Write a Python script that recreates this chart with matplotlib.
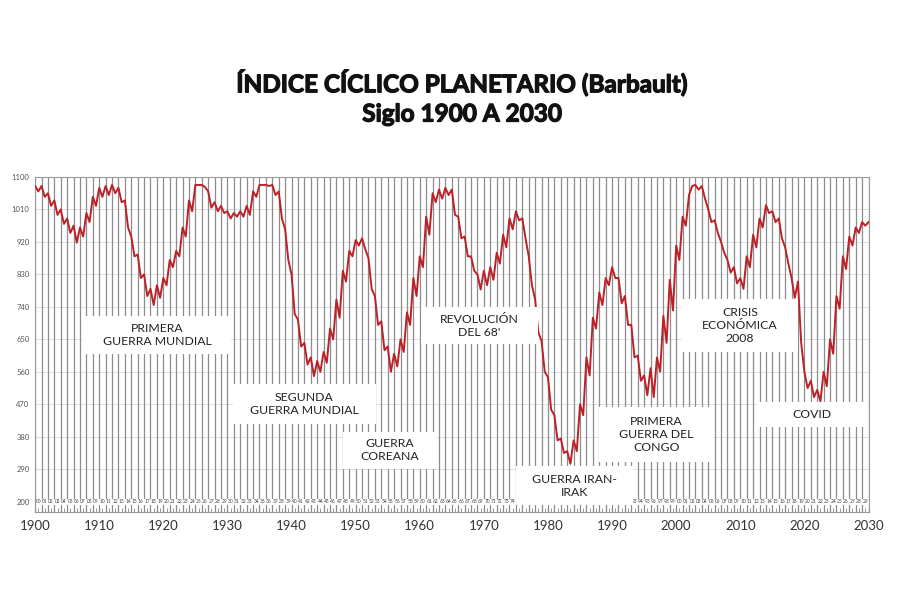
import numpy as np
import matplotlib.pyplot as plt
import matplotlib.patheffects as pe
from matplotlib.patches import Rectangle

plt.rcParams['font.family'] = ['Lato', 'DejaVu Sans']

# semi-annual readings, 1900.0 .. 2030.0
years = np.arange(1900, 2030.01, 0.5)
index_values = [
    # 1900s
    1075, 1060, 1075, 1045, 1055, 1020, 1035, 995, 1010, 970,
    985, 945, 965, 918, 960, 935, 1000, 975, 1045, 1020,
    # 1910s
    1070, 1045, 1075, 1050, 1078, 1055, 1070, 1030, 1035, 960,
    935, 880, 885, 820, 830, 770, 790, 745, 800, 765,
    # 1920s
    820, 800, 870, 850, 895, 880, 960, 935, 1035, 1005,
    1078, 1078, 1078, 1072, 1060, 1015, 1030, 1005, 1020, 1000,
    # 1930s
    1005, 985, 1000, 990, 1005, 990, 1020, 995, 1060, 1045,
    1078, 1078, 1078, 1075, 1078, 1050, 1060, 985, 955, 870,
    # 1940s
    830, 720, 705, 630, 640, 580, 600, 548, 590, 560,
    615, 585, 680, 650, 760, 710, 840, 810, 895, 880,
    # 1950s
    925, 910, 930, 900, 875, 790, 770, 690, 700, 620,
    630, 560, 610, 575, 650, 615, 725, 690, 820, 770,
    # 1960s
    880, 850, 990, 940, 1055, 1030, 1065, 1040, 1070, 1050,
    1065, 995, 990, 930, 935, 880, 880, 840, 830, 788,
    # 1970s
    840, 800, 850, 815, 890, 860, 940, 905, 985, 955,
    1005, 980, 985, 930, 880, 800, 760, 670, 645, 560,
    # 1980s
    545, 455, 440, 370, 375, 335, 340, 305, 370, 340,
    470, 440, 600, 550, 710, 680, 780, 745, 820, 800,
    # 1990s
    850, 820, 820, 750, 770, 690, 690, 600, 605, 535,
    550, 495, 570, 490, 600, 560, 715, 640, 815, 730,
    # 2000s
    910, 870, 990, 965, 1050, 1075, 1078, 1065, 1075, 1040,
    1010, 975, 980, 945, 920, 890, 870, 835, 850, 805,
    # 2010s
    820, 790, 880, 850, 940, 905, 985, 960, 1022, 1000,
    1005, 975, 985, 930, 905, 860, 820, 765, 810, 640,
    # 2020s
    560, 515, 535, 490, 510, 478, 560, 520, 650, 610,
    770, 735, 880, 845, 935, 910, 960, 945, 975, 965,
    975,
]

decade_ticks = list(range(1900, 2031, 10))
y_ticks = list(range(200, 1101, 90))

# label, box extent (year0, year1, value0, value1)
events = [
    ("PRIMERA\nGUERRA MUNDIAL", (1907.5, 1930.5, 610, 714)),
    ("SEGUNDA\nGUERRA MUNDIAL", (1930.8, 1953.1, 416, 525)),
    ("GUERRA\nCOREANA", (1948.1, 1962.5, 292, 394)),
    ("REVOLUCIÓN\nDEL 68'", (1960.2, 1978.4, 637, 739)),
    ("GUERRA IRAN-\nIRAK", (1975.0, 1993.3, 190, 298)),
    ("PRIMERA\nGUERRA DEL\nCONGO", (1988.0, 2005.8, 311, 463)),
    ("CRISIS\nECONÓMICA\n2008", (2000.9, 2019.0, 615, 761)),
    ("COVID", (2012.5, 2030.0, 408, 477)),
]

fig = plt.figure(figsize=(9, 6), dpi=100)
ax = fig.add_axes([0.039, 0.147, 0.926, 0.558])

ax.set_xlim(1900, 2030)
ax.set_ylim(172, 1100)

# yearly vertical lines and faint horizontal grid
for yr in range(1900, 2031):
    ax.axvline(yr, color='#8c8c8c', lw=0.9, zorder=1)
for yv in y_ticks:
    ax.axhline(yv, color='#dcdcdc', lw=0.6, zorder=0.5)

# tiny 2-digit year labels along the bottom
for yr in range(1900, 2030):
    ax.text(yr + 0.5, 200, f"{yr % 100:02d}", fontsize=3.5, color='#444444',
            ha='center', va='center', zorder=2,
            bbox=dict(facecolor='white', edgecolor='none', pad=0.3))

ax.plot(years, index_values, color='#bd2128', lw=1.4, zorder=3)

for label, (x0, x1, y0, y1) in events:
    ax.add_patch(Rectangle((x0, y0), x1 - x0, y1 - y0, facecolor='white',
                           edgecolor='none', zorder=4))
    ax.text((x0 + x1) / 2, (y0 + y1) / 2, label, fontsize=8.8, color='#222222',
            ha='center', va='center', linespacing=1.2, zorder=5)

ax.set_xticks(decade_ticks)
ax.set_xticklabels([str(d) for d in decade_ticks], fontsize=9.5, color='#333333')
ax.set_xticks(np.arange(1900, 2030.01, 0.5), minor=True)
ax.set_yticks(y_ticks)
ax.set_yticklabels([str(v) for v in y_ticks], fontsize=5.5, color='#555555')
ax.tick_params(axis='x', which='both', direction='in', length=3, color='#888888', pad=6)
ax.tick_params(axis='y', length=0, pad=4)

for sp in ax.spines.values():
    sp.set_color('#999999')
    sp.set_linewidth(0.8)

heavy = [pe.withStroke(linewidth=0.9, foreground='#111111')]
fig.text(0.513, 0.862, "ÍNDICE CÍCLICO PLANETARIO (Barbault)", ha='center', va='center',
         fontsize=17.5, fontweight='bold', color='#111111', path_effects=heavy)
fig.text(0.513, 0.81, "Siglo 1900 A 2030", ha='center', va='center',
         fontsize=17.5, fontweight='bold', color='#111111', path_effects=heavy)

fig.savefig('out.png', dpi=100, facecolor='white')
